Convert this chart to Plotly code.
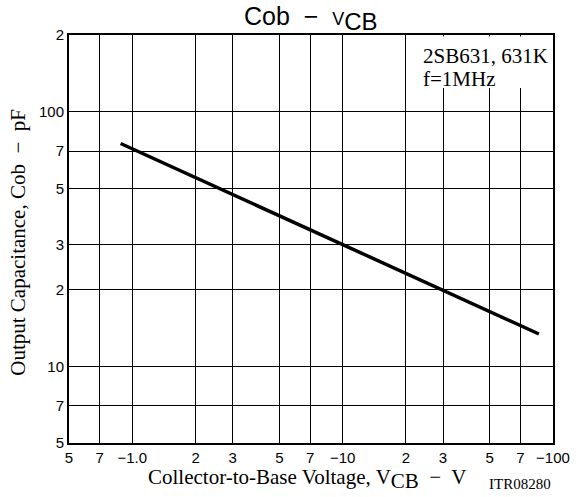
import plotly.graph_objects as go

# Data (magnitude of V_CB in volts, Cob in pF)
vcb = [0.88, 10.0, 85.7]
cob = [75.0, 30.0, 13.4]

x_tickvals = [0.5, 0.7, 1, 2, 3, 5, 7, 10, 20, 30, 50, 70, 100]
x_ticktext = ["5", "7", "\u22121.0", "2", "3", "5", "7", "\u221210", "2", "3", "5", "7", "\u2212100"]
y_tickvals = [5, 7, 10, 20, 30, 50, 70, 100, 200]
y_ticktext = ["5", "7", "10", "2", "3", "5", "7", "100", "2"]

sans = "Liberation Sans, Arial, sans-serif"
serif = "Liberation Serif, Times New Roman, serif"

W, H = 582, 497
l, r, t, b = 69, 22, 35, 54
pw, ph = W - l - r, H - t - b


def px(xp):
    return (xp - l) / pw


def py(yp):
    return (H - b - yp) / ph


fig = go.Figure()
fig.add_trace(go.Scatter(x=vcb, y=cob, mode="lines",
                         line=dict(color="black", width=3.5), showlegend=False))

axis_common = dict(type="log", showgrid=True, gridcolor="black", gridwidth=1,
                   showline=True, linecolor="black", linewidth=2, mirror=True,
                   ticks="", zeroline=False, tickfont=dict(family=sans, size=15))

fig.update_layout(
    width=W, height=H,
    margin=dict(l=l, r=r, t=t, b=b),
    paper_bgcolor="white", plot_bgcolor="white",
    font=dict(family=sans, size=15, color="black"),
    xaxis=dict(range=[0.69897 - 1, 2], tickvals=x_tickvals, ticktext=x_ticktext, **axis_common),
    yaxis=dict(range=[0.69897, 2.30103], tickvals=y_tickvals, ticktext=y_ticktext, **axis_common),
    shapes=[
        dict(type="rect", xref="paper", yref="paper", x0=px(420), x1=px(558),
             y0=py(88), y1=py(36.5), fillcolor="white", line=dict(width=0), layer="above"),
    ],
    annotations=[
        dict(text="Cob  \u2212  <span style='font-size:18px'>V</span><sub><span style='font-size:24px'>CB</span></sub>",
             xref="paper", yref="paper", x=px(314), y=py(19),
             xanchor="center", yanchor="middle", showarrow=False,
             font=dict(family=sans, size=25)),
        dict(text="Collector-to-Base Voltage, V<sub><span style='font-size:21px'>CB</span></sub>  \u2212  V",
             xref="paper", yref="paper", x=px(310), y=py(479),
             xanchor="center", yanchor="middle", showarrow=False,
             font=dict(family=serif, size=21)),
        dict(text="ITR08280", xref="paper", yref="paper", x=px(527), y=py(484),
             xanchor="center", yanchor="middle", showarrow=False,
             font=dict(family=serif, size=15)),
        dict(text="Output Capacitance, Cob  \u2212  pF", textangle=-90,
             xref="paper", yref="paper", x=px(17), y=py(242),
             xanchor="center", yanchor="middle", showarrow=False,
             font=dict(family=serif, size=21)),
        dict(text="2SB631, 631K", xref="paper", yref="paper",
             x=px(426), y=py(56), xanchor="left", yanchor="middle", align="left",
             showarrow=False, font=dict(family=serif, size=21)),
        dict(text="f=1MHz", xref="paper", yref="paper",
             x=px(426), y=py(79), xanchor="left", yanchor="middle", align="left",
             showarrow=False, font=dict(family=serif, size=21)),
    ],
)

fig.write_html("out.html")
